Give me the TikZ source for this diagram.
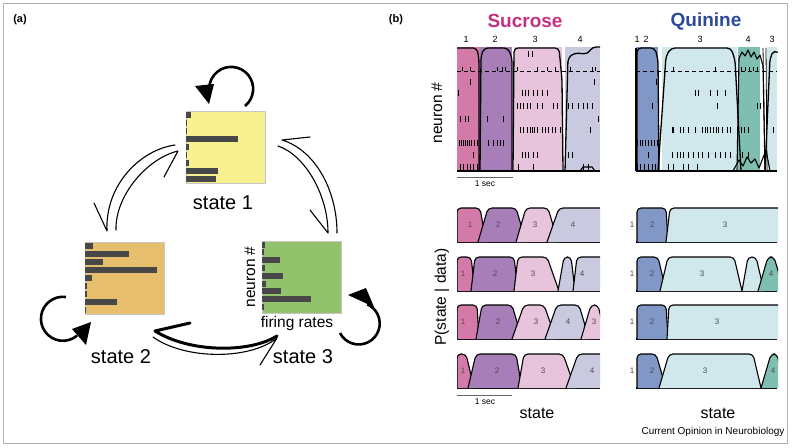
\documentclass[tikz,border=0pt]{standalone}
\usepackage{fontspec}
\setmainfont{Liberation Sans}
\usetikzlibrary{arrows.meta,calc,positioning}

\definecolor{boxyellow}{RGB}{246,240,142}
\definecolor{boxorange}{RGB}{230,190,110}
\definecolor{boxgreen}{RGB}{146,194,108}
\definecolor{bargray}{RGB}{72,72,72}
\definecolor{sucpink}{RGB}{212,122,168}
\definecolor{sucpurple}{RGB}{168,126,184}
\definecolor{suclight}{RGB}{231,196,219}
\definecolor{suclav}{RGB}{201,202,223}
\definecolor{quiblue}{RGB}{129,152,198}
\definecolor{quicyan}{RGB}{208,231,236}
\definecolor{quiteal}{RGB}{126,191,178}
\definecolor{sucmagenta}{RGB}{196,48,127}
\definecolor{quinavy}{RGB}{45,74,154}

% one state of a P(state | data) row: x1, x2, left ramp, right ramp,
% colour, number, x of the number, centre of the row
\newcommand{\pblob}[8]{%
  \filldraw[blobline, fill=#5] (#1-#3,#8+17) -- (#1+#3,#8-17)
                              -- (#2-#4,#8-17) -- (#2+#4,#8+17);
  \node[numlabel] (n#6at#7y#8) at (#7,#8) {#6};}

\begin{document}
\begin{tikzpicture}[x=1pt,y=-1pt,
  statebox/.style={draw=gray!45, line width=0.6pt, minimum width=79pt,
                   minimum height=72pt, inner sep=0pt, anchor=north west},
  ratebar/.style={fill=bargray},
  loopline/.style={line width=2.6pt},
  harpoon/.style={line width=1.1pt, line cap=round, line join=round},
  bigtext/.style={font=\fontsize{20}{22}\selectfont, inner sep=0pt},
  midtext/.style={font=\fontsize{15.5}{17}\selectfont, inner sep=0pt},
  smalltext/.style={font=\fontsize{9}{10}\selectfont, inner sep=0pt},
  numlabel/.style={font=\fontsize{8}{9}\selectfont, text=black!70, inner sep=0pt},
  blobline/.style={line width=1.1pt, rounded corners=4pt, line join=round},
  spike/.style={line width=0.7pt},
  probline/.style={line width=1.3pt, rounded corners=4pt, line join=round},
  scalebar/.style={line width=0.9pt, black!60},
]
\useasboundingbox (0,0) rectangle (792,447);
\draw[gray!60, line width=1pt] (3,3) rectangle (787,443);

% panel letters
\node[font=\fontsize{11}{12}\selectfont\bfseries] (pa) at (20,20) {(a)};
\node[font=\fontsize{11}{12}\selectfont\bfseries] (pb) at (396,20) {(b)};

%%%%%%%%%%%%%%%%%%%%%%%%%%%%%%%%%%%%%%%%%%%%%%%%%%%%%%%%%
% (a) the three states with their firing rates
%%%%%%%%%%%%%%%%%%%%%%%%%%%%%%%%%%%%%%%%%%%%%%%%%%%%%%%%%
\node[statebox, fill=boxyellow] (st1) at (186,111) {};
\node[statebox, fill=boxorange] (st2) at (85,242) {};
\node[statebox, fill=boxgreen]  (st3) at (262,241) {};

% firing rate bars, one per neuron
\foreach \w [count=\i] in {5,1,1,52,3,1,3,32,30}
  \fill[ratebar] ($(st1.north west)+(0,\i*8-7)$) rectangle ++(\w,5.5);
\foreach \w [count=\i] in {8,44,18,72,7,2,2,32,1}
  \fill[ratebar] ($(st2.north west)+(0,\i*8-7.5)$) rectangle ++(\w,6);
\foreach \w [count=\i] in {3,2,18,3,21,4,19,49,2}
  \fill[ratebar] ($(st3.north west)+(0,\i*7.8-7.3)$) rectangle ++(\w,6);

\node[bigtext] (lab1) at (223,203) {state 1};
\node[bigtext] (lab2) at (121,357) {state 2};
\node[bigtext] (lab3) at (303,357) {state 3};
\node[midtext] (rates) at (297,323) {firing rates};
\node[midtext, rotate=90] (nrn) at (250,277) {neuron \#};

% staying in the same state (arc, then its head)
\coordinate (l1s) at (245,106);
\coordinate (l2s) at (66,297);
\coordinate (l3s) at (340,333);
\draw[loopline] (l1s) arc[start angle=51,  end angle=-178, radius=22];
\draw[loopline] (l2s) arc[start angle=-82, end angle=-310, radius=22];
\draw[loopline] (l3s) arc[start angle=153, end angle=-66,  radius=21];
\fill (195,86) -- (214,84) -- (209,104) -- cycle;
\fill (72,329) -- (91,322) -- (86,345) -- cycle;
\fill (348,295) -- (366,288) -- (374,307) -- cycle;

% switching between states (thin arcs with a one sided head)
\coordinate (a12s) at (175,145); \coordinate (a12e) at (107,231);
\coordinate (a12h) at (94,203);
\coordinate (a21s) at (116,230); \coordinate (a21e) at (178,151);
\coordinate (a21h) at (164,177);
\coordinate (a31s) at (337,233); \coordinate (a31e) at (282,140);
\coordinate (a31h) at (310,137);
\coordinate (a13s) at (278,146); \coordinate (a13e) at (328,233);
\coordinate (a13h) at (310,210);
\coordinate (a32s) at (277,336); \coordinate (a32e) at (155,331);
\coordinate (a32h) at (190,323);
\coordinate (a23s) at (153,337); \coordinate (a23e) at (277,338);
\coordinate (a23h) at (260,365);

\draw[harpoon] (a12s) .. controls (140,150) and (105,185) .. (a12e) -- (a12h);
\draw[harpoon] (a21s) .. controls (115,195) and (148,158) .. (a21e) -- (a21h);
\draw[harpoon] (a31s) .. controls (337,190) and (315,150) .. (a31e) -- (a31h);
\draw[harpoon] (a13s) .. controls (305,155) and (328,195) .. (a13e) -- (a13h);
\draw[harpoon, line width=3pt] (a32s) .. controls (250,353) and (190,353) .. (a32e) -- (a32h);
\draw[harpoon] (a23s) .. controls (185,360) and (250,360) .. (a23e) -- (a23h);

%%%%%%%%%%%%%%%%%%%%%%%%%%%%%%%%%%%%%%%%%%%%%%%%%%%%%%%%%
% (b) spike rasters with the decoded states
%%%%%%%%%%%%%%%%%%%%%%%%%%%%%%%%%%%%%%%%%%%%%%%%%%%%%%%%%
\node[font=\fontsize{19}{21}\selectfont\bfseries, text=sucmagenta] (suc) at (525,21) {Sucrose};
\node[font=\fontsize{19}{21}\selectfont\bfseries, text=quinavy]    (qui) at (706,21) {Quinine};

% state stripes
\fill[sucpink]   (457,47) rectangle (480,171);
\fill[sucpurple] (480,47) rectangle (512,171);
\fill[suclight]  (514,47) rectangle (562,171);
\fill[suclav]    (565,47) rectangle (600,171);
\fill[quiblue]   (636,47) rectangle (658,171);
\fill[quicyan]   (662,47) rectangle (737,171);
\fill[quiteal]   (738,47) rectangle (760,171);
\fill[quicyan]   (767,47) rectangle (777,171);

\foreach \n/\x in {1/466,2/495,3/535,4/580,1/637,2/646,3/700,4/748,3/772}
  \node[smalltext] (top\n at\x) at (\x,39) {\n};

% spikes, row by row
\foreach \y/\xs in {54/{528,532},
                    82/{470,594,656},
                    93/{458,522,525,528,533,537,542,547,695,698,710,717,725},
                    106/{517,520,523,527,530,537,542,553,557,568,572,578,583,587,592,652,717,757,760},
                    119/{460,465,468,487,503,598},
                    130/{520,523,527,530,532,534,537,542,545,548,552,555,560,590,672,673,680,683,688,695,702,705,707,710,713,716,718,722,727,730,741,744,748,773},
                    143/{459,461,463,465,467,469,471,474,477,488,493,497,500,503,637,640,642,645,648,651,654,657},
                    155/{473,522,525,528,533,537,565,568,572,648,672,677,680,683,688,693,698,702,708,715,720,725,730,742,748},
                    167/{460,463,467,470,473,477,518,533,583,588,637,640,644,648,652,655,668,673,683,688,697}}
  \foreach \x in \xs
    \draw[spike] (\x,\y-3) -- (\x,\y+3);

% dashed line with its small ticks
\draw[line width=1pt, dash pattern=on 4pt off 3pt] (457,71) -- (600,71);
\draw[line width=1pt, dash pattern=on 4pt off 3pt] (636,71) -- (777,71);
\foreach \x in {462,470,497,502,505,517,537,547,555,570,592,595,673,715,741,745,749,753,757}
  \draw[spike] (\x,67) -- (\x,71);

% probability of each state (top rasters)
\draw[probline] (457,48) -- (477,48) -- (479,60) -- (479,171);
\draw[probline] (480,171) -- (481,56) -- (484,48) -- (508,48) -- (512,58) -- (512,171);
\draw[probline] (513,171) -- (514,48) -- (559,48) -- (562,80) -- (563,171);
\draw[probline] (565,171) -- (568,58) -- (574,53) -- (588,54) -- (592,47) -- (600,47);
\draw[line width=1.1pt] (580,171) -- (583,167) -- (592,167) -- (595,171);
\draw[line width=2pt] (636,48) -- (636,171);
\draw[probline] (637,171) -- (637,48) -- (655,48) -- (658,60) -- (659,171);
\draw[probline] (658,171) -- (666,56) -- (671,48) -- (731,48) -- (735,60) -- (741,171);
\draw[line width=1.1pt, line join=round] (737,171) -- (739,58) -- (742,52) -- (745,56)
  -- (748,50) -- (751,57) -- (754,52) -- (757,59) -- (760,55) -- (763,66) -- (765,171);
\draw[line width=1.1pt, line join=round] (733,171) -- (739,160) -- (743,166) -- (747,157)
  -- (751,163) -- (755,159) -- (759,168) -- (766,150) -- (770,171);
\draw[line width=0.8pt] (763,48) -- (765,171) (766,48) -- (767,171);
\draw[probline] (765,171) -- (770,58) -- (774,50) -- (777,52);
\draw[line width=1.2pt] (457,171) -- (600,171) (636,171) -- (777,171);

\node[midtext, rotate=90] (nrnb) at (437,113) {neuron \#};
\draw[scalebar] (457,177) -- (513,177);
\node[font=\fontsize{8.5}{9}\selectfont, inner sep=0pt] (sec1) at (485,184) {1 sec};

% P(state | data) rows for sucrose
\foreach \yc in {225,274,322,371}
  \draw[blobline] (457,\yc+17) -- (600,\yc+17) (636,\yc+17) -- (777,\yc+17);

\begin{scope}
  \clip (457,205) rectangle (600,245);
  \pblob{457}{483}{0}{3}{sucpink}{1}{470}{225}
  \pblob{483}{521}{5}{5}{sucpurple}{2}{498}{225}
  \pblob{521}{553}{5}{5}{suclight}{3}{535}{225}
  \pblob{553}{620}{6}{0}{suclav}{4}{573}{225}
\end{scope}
\begin{scope}
  \clip (457,254) rectangle (600,294);
  \pblob{457}{473}{0}{2}{sucpink}{1}{463}{274}
  \pblob{473}{516}{2}{2}{sucpurple}{2}{495}{274}
  \pblob{516}{553}{2}{6}{suclight}{3}{533}{274}
  \pblob{561}{573}{3}{2}{suclav}{}{567}{274}
  \pblob{575}{620}{2}{0}{suclav}{4}{582}{274}
\end{scope}
\begin{scope}
  \clip (457,302) rectangle (600,342);
  \pblob{457}{478}{0}{1}{sucpink}{1}{463}{322}
  \pblob{479}{517}{3}{5}{sucpurple}{2}{498}{322}
  \pblob{518}{550}{6}{6}{suclight}{3}{536}{322}
  \pblob{551}{584}{6}{5}{suclav}{4}{568}{322}
  \pblob{586}{602}{5}{4}{suclight}{3}{594}{322}
\end{scope}
\begin{scope}
  \clip (457,351) rectangle (600,391);
  \pblob{457}{470}{0}{4}{sucpink}{1}{463}{371}
  \pblob{472}{519}{4}{3}{sucpurple}{2}{497}{371}
  \pblob{521}{569}{3}{6}{suclight}{3}{543}{371}
  \pblob{572}{620}{6}{0}{suclav}{4}{592}{371}
\end{scope}

% P(state | data) rows for quinine
\begin{scope}
  \clip (636,205) rectangle (778,245);
  \pblob{637}{667}{0}{1}{quiblue}{2}{652}{225}
  \pblob{668}{800}{2}{0}{quicyan}{3}{725}{225}
\end{scope}
\begin{scope}
  \clip (636,254) rectangle (778,294);
  \pblob{637}{662}{0}{4}{quiblue}{2}{652}{274}
  \pblob{664}{738}{4}{4}{quicyan}{3}{702}{274}
  \pblob{745}{760}{3}{4}{quicyan}{}{752}{274}
  \pblob{763}{779}{5}{5}{quiteal}{4}{771}{274}
\end{scope}
\begin{scope}
  \clip (636,302) rectangle (778,342);
  \pblob{637}{667}{0}{1}{quiblue}{2}{652}{322}
  \pblob{668}{800}{1}{0}{quicyan}{3}{717}{322}
\end{scope}
\begin{scope}
  \clip (636,351) rectangle (778,391);
  \pblob{637}{661}{0}{5}{quiblue}{2}{652}{371}
  \pblob{664}{757}{5}{4}{quicyan}{3}{705}{371}
  \pblob{766}{781}{5}{4}{quiteal}{4}{773}{371}
\end{scope}
\foreach \yc in {225,274,322,371}
  \node[numlabel] (one\yc) at (632,\yc) {1};

\node[midtext, rotate=90] (pstate) at (442,297) {P(state | data)};
\draw[scalebar] (457,395) -- (512,395);
\node[font=\fontsize{8.5}{9}\selectfont, inner sep=0pt] (sec2) at (485,402) {1 sec};
\node[font=\fontsize{16}{18}\selectfont, inner sep=0pt] (xsuc) at (537,413) {state};
\node[font=\fontsize{16}{18}\selectfont, inner sep=0pt] (xqui) at (718,413) {state};
\node[font=\fontsize{10}{11}\selectfont, inner sep=0pt] (journal) at (713,432) {Current Opinion in Neurobiology};
\end{tikzpicture}
\end{document}
